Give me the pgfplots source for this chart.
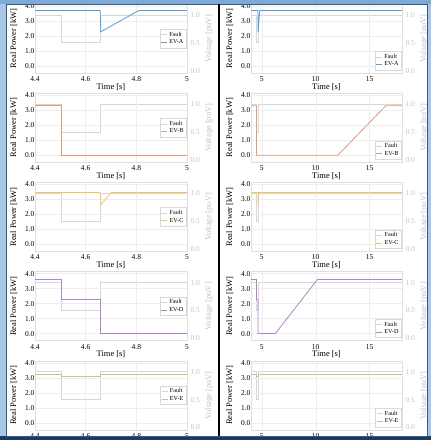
\documentclass[border=0pt]{standalone}
\usepackage{pgfplots}
\pgfplotsset{compat=1.18}
\usepackage{fontspec}
\setmainfont{Liberation Serif}
\definecolor{cA}{HTML}{5B9BD5}
\definecolor{cB}{HTML}{E39B72}
\definecolor{cC}{HTML}{F2C46A}
\definecolor{cD}{HTML}{B283C4}
\definecolor{cE}{HTML}{B2CF86}
\definecolor{cF}{HTML}{D6D6D6}
\definecolor{vlab}{HTML}{C4C4C4}
\definecolor{frameL}{HTML}{A7C8E6}
\definecolor{frameT}{HTML}{7FA9D6}
\definecolor{frameD}{HTML}{2E5C8A}
\definecolor{frameN}{HTML}{1F3864}
\pgfplotsset{
  common/.style={scale only axis, height=69bp,
    /pgf/number format/assume math mode=true,
    major tick length=0pt, minor tick length=0pt},
  pw/.style={common,
    ymin=-0.467, ymax=4.133, ytick={0,1,2,3,4},
    yticklabel style={/pgf/number format/fixed,/pgf/number format/fixed zerofill,/pgf/number format/precision=1,font=\fontsize{7.5}{8}\selectfont, xshift=3bp},
    xticklabel style={font=\fontsize{7.5}{8}\selectfont},
    ylabel={Real Power [kW]},
    ylabel style={font=\fontsize{8.5}{9}\selectfont, yshift=1bp},
    xlabel={Time [s]},
    xlabel style={font=\fontsize{8.5}{9}\selectfont, yshift=5bp},
    grid=major, major grid style={draw=black!7, line width=0.4pt},
    axis line style={draw=black!12, line width=0.4pt},
    legend style={font=\fontsize{6.2}{6.2}\selectfont, draw=black!15, fill=white, inner sep=0.6bp, row sep=-2bp,
      cells={anchor=west}},
    legend image code/.code={\draw[#1] (0bp,0bp) -- (6bp,0bp);},
  },
  vt/.style={common,
    ymin=-0.041, ymax=1.197, ytick={0,0.5,1},
    axis y line*=right, axis x line=none,
    yticklabel style={/pgf/number format/fixed,/pgf/number format/fixed zerofill,/pgf/number format/precision=1,font=\fontsize{7.5}{8}\selectfont, text=vlab},
    ylabel={Voltage [puV]},
    ylabel style={font=\fontsize{8.5}{9}\selectfont, text=vlab, yshift=1.5bp},
    axis line style={draw=none},
  },
  leftc/.style={width=152bp, xmin=4.4, xmax=5},
  rightc/.style={width=151bp, xmin=4, xmax=18},
  lxt/.style={xtick={4.4,4.6,4.8,5}, xticklabels={4.4,4.6,4.8,5}},
  rxt/.style={xtick={5,10,15}, xticklabels={5,10,15}},
  lleg/.style={legend style={at={(0.995,0.5)}, anchor=east}},
  rleg/.style={legend style={at={(0.995,0.04)}, anchor=south east}},
  ev/.style={line width=0.8pt},
  flt/.style={cF, line width=0.8pt},
}
\begin{document}
\begin{tikzpicture}
\useasboundingbox (0,0) rectangle (431bp,440bp);
\fill[frameL] (0,0) rectangle (431bp,440bp);
\fill[white] (6bp,4bp) rectangle (427bp,436bp);
% ===== Row 1 =====
\begin{axis}[vt, leftc, at={(35bp,367bp)}, anchor=south west]
\addplot[flt] coordinates {(4.4,1)(4.505,1)(4.505,0.5)(4.657,0.5)(4.657,1)(5,1)};
\end{axis}
\begin{axis}[pw, leftc, lxt, lleg, at={(35bp,367bp)}, anchor=south west]
\addlegendimage{flt}\addlegendentry{Fault}
\addplot[ev, cA] coordinates {(4.4,3.7)(4.657,3.7)(4.66,2.28)(4.81,3.7)(5,3.7)};
\addlegendentry{EV-A}
\end{axis}
\begin{axis}[vt, rightc, at={(251bp,367bp)}, anchor=south west]
\addplot[flt] coordinates {(4,1)(4.505,1)(4.505,0.5)(4.657,0.5)(4.657,1)(18,1)};
\end{axis}
\begin{axis}[pw, rightc, rxt, rleg, at={(251bp,367bp)}, anchor=south west]
\addlegendimage{flt}\addlegendentry{Fault}
\addplot[ev, cA] coordinates {(4,3.7)(4.657,3.7)(4.66,2.28)(4.81,3.7)(18,3.7)};
\addlegendentry{EV-A}
\end{axis}
% ===== Row 2 =====
\begin{axis}[vt, leftc, at={(35bp,277.8bp)}, anchor=south west]
\addplot[flt] coordinates {(4.4,1)(4.505,1)(4.505,0.5)(4.657,0.5)(4.657,1)(5,1)};
\end{axis}
\begin{axis}[pw, leftc, lxt, lleg, at={(35bp,277.8bp)}, anchor=south west]
\addlegendimage{flt}\addlegendentry{Fault}
\addplot[ev, cB] coordinates {(4.4,3.3)(4.505,3.3)(4.505,0)(5,0)};
\addlegendentry{EV-B}
\end{axis}
\begin{axis}[vt, rightc, at={(251bp,277.8bp)}, anchor=south west]
\addplot[flt] coordinates {(4,1)(4.505,1)(4.505,0.5)(4.657,0.5)(4.657,1)(18,1)};
\end{axis}
\begin{axis}[pw, rightc, rxt, rleg, at={(251bp,277.8bp)}, anchor=south west]
\addlegendimage{flt}\addlegendentry{Fault}
\addplot[ev, cB] coordinates {(4,3.3)(4.505,3.3)(4.505,0)(12.05,0)(16.5,3.3)(18,3.3)};
\addlegendentry{EV-B}
\end{axis}
% ===== Row 3 =====
\begin{axis}[vt, leftc, at={(35bp,188.6bp)}, anchor=south west]
\addplot[flt] coordinates {(4.4,1)(4.505,1)(4.505,0.5)(4.657,0.5)(4.657,1)(5,1)};
\end{axis}
\begin{axis}[pw, leftc, lxt, lleg, at={(35bp,188.6bp)}, anchor=south west]
\addlegendimage{flt}\addlegendentry{Fault}
\addplot[ev, cC] coordinates {(4.4,3.45)(4.657,3.45)(4.66,2.65)(4.70,3.45)(5,3.45)};
\addlegendentry{EV-C}
\end{axis}
\begin{axis}[vt, rightc, at={(251bp,188.6bp)}, anchor=south west]
\addplot[flt] coordinates {(4,1)(4.505,1)(4.505,0.5)(4.657,0.5)(4.657,1)(18,1)};
\end{axis}
\begin{axis}[pw, rightc, rxt, rleg, at={(251bp,188.6bp)}, anchor=south west]
\addlegendimage{flt}\addlegendentry{Fault}
\addplot[ev, cC] coordinates {(4,3.45)(4.657,3.45)(4.66,2.65)(4.70,3.45)(18,3.45)};
\addlegendentry{EV-C}
\end{axis}
% ===== Row 4 =====
\begin{axis}[vt, leftc, at={(35bp,99.4bp)}, anchor=south west]
\addplot[flt] coordinates {(4.4,1)(4.505,1)(4.505,0.5)(4.657,0.5)(4.657,1)(5,1)};
\end{axis}
\begin{axis}[pw, leftc, lxt, lleg, at={(35bp,99.4bp)}, anchor=south west]
\addlegendimage{flt}\addlegendentry{Fault}
\addplot[ev, cD] coordinates {(4.4,3.6)(4.505,3.6)(4.505,2.25)(4.657,2.25)(4.657,0)(5,0)};
\addlegendentry{EV-D}
\end{axis}
\begin{axis}[vt, rightc, at={(251bp,99.4bp)}, anchor=south west]
\addplot[flt] coordinates {(4,1)(4.505,1)(4.505,0.5)(4.657,0.5)(4.657,1)(18,1)};
\end{axis}
\begin{axis}[pw, rightc, rxt, rleg, at={(251bp,99.4bp)}, anchor=south west]
\addlegendimage{flt}\addlegendentry{Fault}
\addplot[ev, cD] coordinates {(4,3.6)(4.505,3.6)(4.505,2.25)(4.657,2.25)(4.657,0)(6.25,0)(10.15,3.6)(18,3.6)};
\addlegendentry{EV-D}
\end{axis}
% ===== Row 5 =====
\begin{axis}[vt, leftc, at={(35bp,10.2bp)}, anchor=south west]
\addplot[flt] coordinates {(4.4,1)(4.505,1)(4.505,0.5)(4.657,0.5)(4.657,1)(5,1)};
\end{axis}
\begin{axis}[pw, leftc, lxt, lleg, at={(35bp,10.2bp)}, anchor=south west]
\addlegendimage{flt}\addlegendentry{Fault}
\addplot[ev, cE] coordinates {(4.4,3.25)(4.505,3.25)(4.505,3.12)(4.657,3.12)(4.657,3.25)(5,3.25)};
\addlegendentry{EV-E}
\end{axis}
\begin{axis}[vt, rightc, at={(251bp,10.2bp)}, anchor=south west]
\addplot[flt] coordinates {(4,1)(4.505,1)(4.505,0.5)(4.657,0.5)(4.657,1)(18,1)};
\end{axis}
\begin{axis}[pw, rightc, rxt, rleg, at={(251bp,10.2bp)}, anchor=south west]
\addlegendimage{flt}\addlegendentry{Fault}
\addplot[ev, cE] coordinates {(4,3.25)(4.505,3.25)(4.505,3.12)(4.657,3.12)(4.657,3.25)(18,3.25)};
\addlegendentry{EV-E}
\end{axis}
% ===== frame =====
\fill[frameL] (0,0) rectangle (6bp,440bp);
\fill[frameL] (427bp,0) rectangle (431bp,440bp);
\fill[frameT] (0,436bp) rectangle (431bp,440bp);
\fill[frameN] (0,0) rectangle (431bp,4bp);
\draw[frameD, line width=0.8pt] (6bp,4bp) rectangle (427bp,436bp);
\draw[black, line width=1.8pt] (219bp,4bp) -- (219bp,436bp);
\end{tikzpicture}
\end{document}
